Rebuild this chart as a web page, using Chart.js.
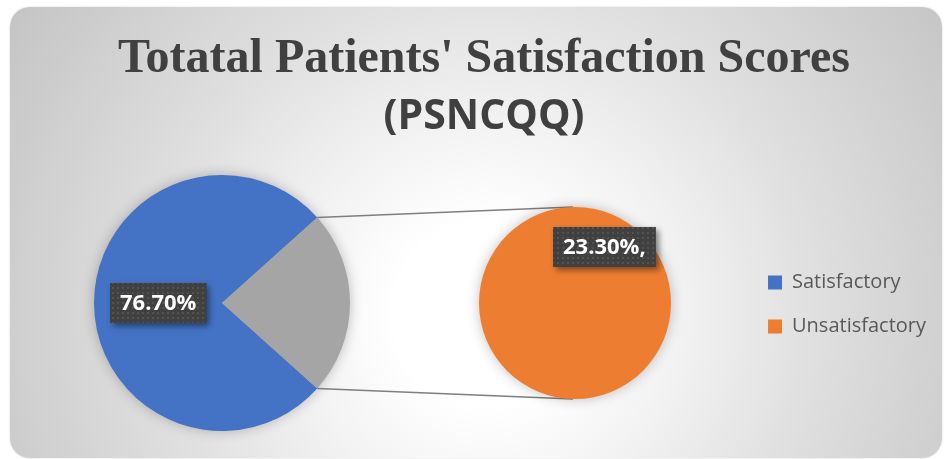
<!DOCTYPE html>
<html><head><meta charset="utf-8">
<script src="https://cdn.jsdelivr.net/npm/chart.js@4.4.1/dist/chart.umd.min.js"></script>
<style>
html,body{margin:0;padding:0;background:#fff;width:944px;height:459px;overflow:hidden;}
#card{position:absolute;left:10px;top:7px;width:932px;height:451px;border-radius:20px;
background:radial-gradient(circle farthest-corner at 51% 68%, #ffffff 0%, #ffffff 16%, #f3f3f3 33%, #dedede 60%, #c4c4c4 100%);
box-shadow:0 0 2px rgba(0,0,0,0.18);}
canvas{position:absolute;left:0;top:0;}
</style></head><body>
<div id="card"></div>
<canvas id="main" width="944" height="459"></canvas>
<canvas id="sub" width="944" height="459"></canvas>
<script>
// ---- data ----
const categories = ['Satisfactory', 'Unsatisfactory'];
const mainSlices = ['Satisfactory', 'Unsatisfactory'];
const mainValues = [76.7, 23.3];
const subSlices = ['Unsatisfactory'];
const subValues = [23.3];
const mainLabelTexts = ['76.70%', null];
const subLabelTexts = ['23.30%,'];
const titleLines = ["Totatal Patients' Satisfaction Scores", "(PSNCQQ)"];

// ---- styles ----
const BLUE = '#4472C4', GRAY = '#A5A5A5', ORANGE = '#ED7D31';
const legendColors = [BLUE, ORANGE];

// dotted pattern for label boxes
const pc = document.createElement('canvas'); pc.width = 5; pc.height = 5;
const pctx = pc.getContext('2d');
pctx.fillStyle = '#404040'; pctx.fillRect(0, 0, 5, 5);
pctx.fillStyle = '#525252'; pctx.fillRect(2, 2, 2, 2);

const placePie = {
  id: 'placePie',
  afterLayout(chart, args, o) {
    chart.chartArea = {left: o.cx - o.r, top: o.cy - o.r, right: o.cx + o.r, bottom: o.cy + o.r, width: 2 * o.r, height: 2 * o.r};
  },
  beforeDatasetsDraw(chart, args, o) {
    const arc = chart.getDatasetMeta(0).data[0];
    if (!arc) return;
    const ctx = chart.ctx;
    ctx.save();
    ctx.shadowColor = 'rgba(0,0,0,0.28)';
    ctx.shadowBlur = 14;
    ctx.fillStyle = '#aaaaaa';
    ctx.beginPath();
    ctx.arc(arc.x, arc.y, arc.outerRadius - 1, 0, Math.PI * 2);
    ctx.fill();
    ctx.restore();
  }
};

const boxLabels = {
  id: 'boxLabels',
  afterDatasetsDraw(chart, args, o) {
    const ctx = chart.ctx;
    const pattern = ctx.createPattern(pc, 'repeat');
    chart.getDatasetMeta(0).data.forEach((arc, i) => {
      const text = o.texts[i];
      if (!text) return;
      const mid = (o.angle !== undefined) ? o.angle * Math.PI / 180 : (arc.startAngle + arc.endAngle) / 2;
      const d = arc.outerRadius * o.radiusFactor;
      const x = arc.x + Math.cos(mid) * d, y = arc.y + Math.sin(mid) * d;
      ctx.save();
      ctx.font = 'bold 22px "Open Sans"';
      const tw = ctx.measureText(text).width;
      const w = tw + 20, h = 40;
      const bx = Math.round(x - w / 2), by = Math.round(y - h / 2);
      ctx.shadowColor = 'rgba(0,0,0,0.45)';
      ctx.shadowBlur = 6; ctx.shadowOffsetX = 3; ctx.shadowOffsetY = 3;
      ctx.fillStyle = '#404040';
      ctx.fillRect(bx, by, w, h);
      ctx.shadowColor = 'transparent';
      ctx.fillStyle = pattern;
      ctx.fillRect(bx, by, w, h);
      ctx.fillStyle = '#ffffff';
      ctx.textAlign = 'center'; ctx.textBaseline = 'middle';
      ctx.fillText(text, bx + w / 2, by + h / 2 + 1);
      ctx.restore();
    });
  }
};

let mainChart = null;
const connectors = {
  id: 'connectors',
  beforeDatasetsDraw(chart) {
    if (!mainChart) return;
    const src = mainChart.getDatasetMeta(0).data[1];
    const dst = chart.getDatasetMeta(0).data[0];
    const ctx = chart.ctx;
    const p1 = [src.x + src.outerRadius * Math.cos(src.startAngle), src.y + src.outerRadius * Math.sin(src.startAngle)];
    const p2 = [src.x + src.outerRadius * Math.cos(src.endAngle), src.y + src.outerRadius * Math.sin(src.endAngle)];
    ctx.save();
    ctx.strokeStyle = '#7f7f7f';
    ctx.lineWidth = 1.6;
    ctx.beginPath();
    ctx.moveTo(p1[0], p1[1]); ctx.lineTo(dst.x - 2, dst.y - dst.outerRadius);
    ctx.moveTo(p2[0], p2[1]); ctx.lineTo(dst.x - 2, dst.y + dst.outerRadius);
    ctx.stroke();
    ctx.restore();
  }
};

// gray slice centred on the right: blue starts at +41.94deg
const otherDeg = mainValues[1] / (mainValues[0] + mainValues[1]) * 360;
const mainRotation = 90 + otherDeg / 2;

mainChart = new Chart(document.getElementById('main'), {
  type: 'pie',
  data: {
    labels: mainSlices,
    datasets: [{data: mainValues, backgroundColor: [BLUE, GRAY], borderWidth: 0, hoverOffset: 0, clip: false}]
  },
  options: {
    responsive: false, animation: false, devicePixelRatio: 1, events: [],
    rotation: mainRotation,
    layout: {padding: {left: 32, right: 8, top: 0, bottom: 0}},
    plugins: {
      tooltip: {enabled: false},
      title: {display: true, text: titleLines[0], color: '#404040',
        font: {family: 'Liberation Serif', size: 48, weight: 'bold'}, padding: {top: 31, bottom: 0}},
      subtitle: {display: true, text: titleLines[1], color: '#404040',
        font: {family: 'Open Sans', size: 41, weight: 'bold'}, padding: {top: 4, bottom: 0}},
      legend: {
        display: true, position: 'right', align: 'center', fullSize: false, onClick: null,
        title: {display: true, text: ' ', font: {size: 5}, padding: {top: 1, bottom: 1}},
        labels: {
          boxWidth: 14, boxHeight: 14, padding: 24, color: '#595959',
          font: {family: 'Open Sans', size: 20},
          generateLabels: () => categories.map((c, i) => ({
            text: c, fillStyle: legendColors[i], strokeStyle: legendColors[i], lineWidth: 0, hidden: false, index: i, fontColor: '#595959'
          }))
        }
      },
      placePie: {cx: 222, cy: 303, r: 128},
      boxLabels: {texts: mainLabelTexts, radiusFactor: 0.5}
    }
  },
  plugins: [placePie, boxLabels]
});

new Chart(document.getElementById('sub'), {
  type: 'pie',
  data: {
    labels: subSlices,
    datasets: [{data: subValues, backgroundColor: [ORANGE], borderWidth: 0, hoverOffset: 0, clip: false}]
  },
  options: {
    responsive: false, animation: false, devicePixelRatio: 1, events: [],
    plugins: {
      tooltip: {enabled: false},
      legend: {display: false},
      title: {display: false},
      placePie: {cx: 575, cy: 303, r: 96},
      boxLabels: {texts: subLabelTexts, radiusFactor: 0.66, angle: -62.6}
    }
  },
  plugins: [connectors, placePie, boxLabels]
});
</script>
</body></html>
